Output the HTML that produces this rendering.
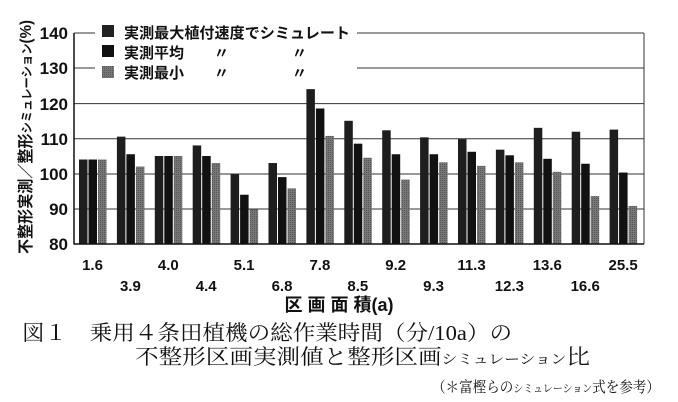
<!DOCTYPE html>
<html><head><meta charset="utf-8"><style>
body{margin:0;background:#fff;width:678px;height:402px;overflow:hidden}
svg{display:block}
text{font-family:"Liberation Sans","Noto Sans CJK JP",sans-serif;fill:#111}
.s{font-family:"Liberation Serif","Noto Serif CJK SC",serif}
</style></head><body>
<svg id="c" width="678" height="402" xmlns="http://www.w3.org/2000/svg">
<defs><pattern id="p" width="2" height="2" patternUnits="userSpaceOnUse"><rect width="2" height="2" fill="#777"/><rect width="1" height="1" fill="#555"/></pattern></defs>
<g stroke="#333" stroke-width="1">
<line x1="74" y1="33" x2="644" y2="33"/><line x1="74" y1="68" x2="644" y2="68"/>
<line x1="74" y1="103.6" x2="644" y2="103.6"/><line x1="74" y1="138.8" x2="644" y2="138.8"/>
<line x1="74" y1="174" x2="644" y2="174"/><line x1="74" y1="209" x2="644" y2="209"/>
<line x1="644" y1="33" x2="644" y2="244"/>
</g>
<rect x="95" y="18" width="262" height="64" fill="#fff"/>
<g id="bars"></g>
<line x1="74" y1="33" x2="74" y2="244.5" stroke="#111" stroke-width="1.5"/>
<line x1="74" y1="244" x2="644" y2="244" stroke="#111" stroke-width="1.5"/>
<g font-size="17" font-weight="bold" text-anchor="end">
<text x="68" y="39">140</text><text x="68" y="74">130</text><text x="68" y="110">120</text>
<text x="68" y="145">110</text><text x="68" y="180">100</text><text x="68" y="215">90</text><text x="68" y="250">80</text>
</g>
<text transform="translate(31,254) rotate(-90)" font-size="16" font-weight="bold" textLength="234" lengthAdjust="spacingAndGlyphs">不整形実測／整形<tspan font-size="12">シミュレーション</tspan>(%)</text>
<g font-size="15" font-weight="bold">
<rect x="102" y="25" width="12" height="12" fill="#222"/><text x="124" y="38" textLength="226" lengthAdjust="spacingAndGlyphs">実測最大植付速度でシミュレート</text>
<rect x="102" y="45" width="12" height="12" fill="#111"/><text x="124" y="58">実測平均</text><text x="214" y="58">〃</text><text x="292" y="58">〃</text>
<rect x="102" y="66" width="12" height="12" fill="url(#p)"/><text x="124" y="78">実測最小</text><text x="214" y="78">〃</text><text x="292" y="78">〃</text>
</g>
<g id="lab" font-size="15" font-weight="bold" text-anchor="middle"></g>
<text x="339" y="311" font-size="18" font-weight="bold" text-anchor="middle">区 画 面 積(a)</text>
<text class="s" x="22" y="340" font-size="21" textLength="490" lengthAdjust="spacingAndGlyphs">図１　乗用４条田植機の総作業時間（分/10a）の</text>
<text class="s" x="135" y="364" font-size="21" textLength="455" lengthAdjust="spacingAndGlyphs">不整形区画実測値と整形区画<tspan font-size="14">シミュレーション</tspan>比</text>
<text class="s" x="432" y="392" font-size="15" textLength="228" lengthAdjust="spacingAndGlyphs">（＊富樫らの<tspan font-size="11">シミュレーション</tspan>式を参考）</text>
</svg>
<script>
var d=[[104,104,104],[110.5,105.5,102],[105,105,105],[108,105,103],[99.8,94,89.8],[103,99,95.8],[124,118.5,110.7],[115,108.5,104.5],[112.3,105.5,98.3],[110.3,105.5,103.2],[109.8,106.2,102.2],[106.8,105.2,103.2],[113,104.2,100.5],[111.9,102.8,93.6],[112.5,100.3,90.8]];
var L=["1.6","3.9","4.0","4.4","5.1","6.8","7.8","8.5","9.2","9.3","11.3","12.3","13.6","16.6","25.5"];
var ns="http://www.w3.org/2000/svg",b=document.getElementById("bars"),lb=document.getElementById("lab");
var fills=["#1e1e1e","#111","url(#p)"];
d.forEach(function(g,i){var x0=79+i*37.9;
g.forEach(function(v,j){var r=document.createElementNS(ns,"rect");var y=244-(v-80)*3.52;
r.setAttribute("x",x0+j*9.5);r.setAttribute("y",y);r.setAttribute("width",8.5);r.setAttribute("height",244-y);r.setAttribute("fill",fills[j]);b.appendChild(r);});
var t=document.createElementNS(ns,"text");t.setAttribute("x",x0+13.5);t.setAttribute("y",i%2?291:270);t.textContent=L[i];lb.appendChild(t);});
</script>
</body></html>
